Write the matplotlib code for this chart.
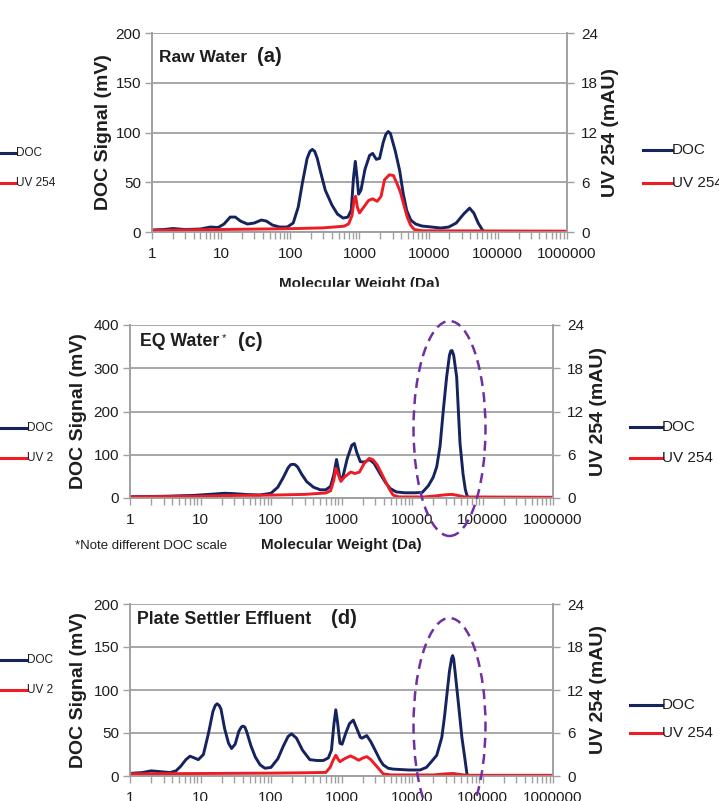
import matplotlib
matplotlib.use('Agg')
import matplotlib.pyplot as plt
from matplotlib.patches import Ellipse, Rectangle
from matplotlib.lines import Line2D
from matplotlib.ticker import FixedLocator, LogLocator, NullFormatter

W, H = 719, 801
plt.rcParams['font.family'] = ['Liberation Sans', 'DejaVu Sans']

# ---------------- data ----------------
mw_ticks = [1, 10, 100, 1000, 10000, 100000, 1000000]
mw_tick_labels = ['1', '10', '100', '1000', '10000', '100000', '1000000']
uv_ticks = [0, 6, 12, 18, 24]

# Panel (a) Raw Water
a_doc_mw = [1, 1.5, 2, 3, 5, 7, 9, 11, 13.5, 16, 19, 24, 30, 38, 45, 55, 70, 90, 110, 130, 150, 175,
            192, 208, 225, 245, 270, 320, 400, 480, 580, 680, 760, 820, 870, 920, 970, 1050, 1200,
            1400, 1550, 1750, 1950, 2200, 2400, 2600, 2800, 3300, 3800, 4300, 4800, 5500, 6500,
            8000, 11000, 15000, 19500, 25000, 32000, 39000, 45000, 52000, 60000, 65000]
a_doc = [2, 2.5, 3.5, 2.5, 3, 5, 4.5, 8, 15, 15, 11, 8, 9, 12, 11, 7, 5, 5, 9, 25, 50, 74,
         81, 83, 81, 74, 62, 42, 27, 18, 14, 15, 22, 55, 71, 55, 38, 42, 63,
         77, 79, 73, 74, 90, 98, 101, 99, 81, 62, 38, 22, 12, 8,
         6, 5, 4, 5, 9, 18, 24, 19, 9, 2, 0]
a_uv_mw = [1, 3, 10, 30, 100, 300, 600, 700, 780, 840, 880, 930, 1000, 1150, 1350, 1550, 1800,
           2050, 2300, 2700, 3100, 3500, 3900, 4400, 4900, 5500, 6200, 8000, 1000000]
a_uv = [0.2, 0.25, 0.3, 0.35, 0.4, 0.5, 0.7, 1.0, 2.0, 4.0, 4.3, 3.0, 2.3, 3.0, 3.8, 4.0, 3.7,
        4.3, 6.3, 6.9, 6.8, 5.8, 4.8, 3.2, 1.8, 0.8, 0.3, 0.15, 0.1]

# Panel (c) EQ Water
c_doc_mw = [1, 3, 8, 15, 22, 30, 45, 70, 100, 125, 150, 175, 190, 205, 220, 240, 270, 320, 400,
            500, 600, 700, 780, 850, 900, 960, 1050, 1200, 1400, 1520, 1650, 1850, 2100, 2500, 2900,
            3500, 4200, 4900, 6000, 8000, 11000, 14000, 17000, 20000, 22400, 25000, 27800, 31000,
            34000, 35500, 37000, 39000, 43000, 48000, 53000, 57000, 60000, 63000]
c_doc = [3, 4, 6, 9, 11, 10, 8, 7, 11, 25, 48, 70, 77, 78, 77, 71, 56, 38, 25,
         19, 19, 27, 55, 89, 68, 43, 50, 90, 122, 126, 105, 84, 83, 89, 80,
         57, 36, 22, 14, 12, 12, 13, 28, 48, 72, 120, 203, 280,
         330, 340, 341, 330, 280, 126, 55, 20, 7, 0]
c_uv_mw = [1, 10, 30, 100, 300, 600, 700, 780, 830, 880, 980, 1100, 1350, 1550, 1800, 2100, 2480,
           2800, 3200, 3700, 4200, 4800, 5400, 6500, 15000, 22000, 30000, 37000, 45000, 55000, 1000000]
c_uv = [0.15, 0.25, 0.35, 0.4, 0.5, 0.7, 1.0, 2.5, 4.1, 3.5, 2.3, 2.9, 3.6, 3.4, 3.6, 4.8, 5.5,
        5.3, 4.6, 3.4, 2.3, 1.2, 0.4, 0.15, 0.15, 0.3, 0.45, 0.5, 0.35, 0.15, 0.1]

# Panel (d) Plate Settler Effluent
d_doc_mw = [1, 1.5, 2, 2.7, 3.7, 4.5, 5.2, 6.2, 7.1, 8.2, 9.3, 11, 13, 15, 16.2, 17.2, 18.4, 19.5,
            22, 25, 27.6, 31, 35, 38, 40, 42.5, 45, 52, 60, 70, 82, 100, 125, 150, 175, 196, 230,
            280, 355, 450, 550, 650, 720, 780, 830, 880, 950, 1020, 1150, 1300, 1470, 1650, 1850,
            1950, 2280, 2600, 3000, 3500, 3900, 4600, 5400, 9000, 13000, 16000, 19000, 22400,
            26500, 29000, 31000, 34000, 36500, 37700, 39000, 41000, 46000, 51000, 56500, 60000, 62000]
d_doc = [3, 4, 6, 5, 4, 6, 11, 19, 23, 21, 19, 25, 50, 75, 82, 84, 82, 78,
         55, 38, 32, 37, 52, 57, 58, 57, 52, 35, 22, 13, 9, 10, 20, 35, 46, 49, 44,
         30, 19, 18, 18, 21, 30, 60, 77, 62, 38, 37, 50, 61, 65, 55, 45,
         44, 47, 40, 30, 19, 13, 9, 8, 7, 7, 10, 17, 24,
         45, 70, 92, 122, 137, 140, 136, 120, 81, 45, 19, 3, 0]
d_uv_mw = [1, 10, 100, 300, 600, 690, 760, 830, 900, 950, 1100, 1340, 1550, 1750, 2000, 2280, 2600,
           3250, 3900, 5000, 20000, 30000, 38000, 50000, 60000, 1000000]
d_uv = [0.3, 0.35, 0.4, 0.45, 0.5, 1.2, 2.2, 2.9, 2.3, 2.0, 2.4, 2.8, 2.5, 2.2, 2.5, 2.7, 2.3,
        1.2, 0.3, 0.15, 0.15, 0.3, 0.35, 0.2, 0.1, 0.1]

# ---------------- style ----------------
NAVY = '#15235E'
RED = '#EE1C25'
GRID = '#A0A0A0'
TXT = '#1E1E1E'
PURPLE = '#7030A0'
TICK_FS = 11

fig = plt.figure(figsize=(W / 100, H / 100), dpi=100)


def fx(x):
    return x / W


def fy(y):
    return 1 - y / H


def panel(box, doc_mw, doc, uv_mw, uv, ymax, ystep, ylab_x, yrlab_x, xlab_y):
    l, t, r, b = box
    ax = fig.add_axes([l / W, 1 - b / H, (r - l) / W, (b - t) / H])
    ax.set_xscale('log')
    ax.set_xlim(1, 1e6)
    ax.set_ylim(0, ymax)
    ax.xaxis.set_major_locator(FixedLocator(mw_ticks))
    ax.set_xticklabels(mw_tick_labels)
    ax.xaxis.set_minor_locator(LogLocator(base=10, subs=range(2, 10), numticks=20))
    ax.xaxis.set_minor_formatter(NullFormatter())
    ax.set_yticks(list(range(0, ymax + 1, ystep)))
    ax.yaxis.grid(True, color=GRID, lw=1.3)
    ax.set_axisbelow(True)
    ax.spines['top'].set_visible(False)
    for s in ['left', 'right', 'bottom']:
        ax.spines[s].set_color(GRID)
        ax.spines[s].set_linewidth(1.2)
    ax.tick_params(axis='x', which='both', direction='out', length=5, width=1, color=GRID,
                   labelcolor=TXT, labelsize=TICK_FS, pad=6)
    ax.tick_params(axis='y', direction='out', length=5, width=1, color=GRID,
                   labelcolor=TXT, labelsize=TICK_FS, pad=3)
    ax.plot(doc_mw, doc, color=NAVY, lw=2.1, solid_joinstyle='round', solid_capstyle='round')
    ax.set_ylabel('DOC Signal (mV)', fontsize=14, fontweight='bold', color=TXT)
    ax.yaxis.set_label_coords(ylab_x, 0.5)
    ax.set_xlabel('Molecular Weight (Da)', fontsize=11, fontweight='bold', color=TXT)
    ax.xaxis.set_label_coords(0.5, xlab_y)

    ax2 = ax.twinx()
    ax2.set_ylim(0, 24)
    ax2.set_yticks(uv_ticks)
    ax2.patch.set_visible(False)
    ax2.spines['top'].set_visible(False)
    for s in ['left', 'right', 'bottom']:
        ax2.spines[s].set_color(GRID)
        ax2.spines[s].set_linewidth(1.2)
    ax2.tick_params(axis='y', direction='out', length=5, width=1, color=GRID,
                    labelcolor=TXT, labelsize=TICK_FS, pad=5)
    ax2.plot(uv_mw, uv, color=RED, lw=2.1, solid_joinstyle='round')
    ax2.set_ylabel('UV 254 (mAU)', fontsize=14, fontweight='bold', color=TXT)
    ax2.yaxis.set_label_coords(yrlab_x, 0.5)
    return ax, ax2


def legend(x0, x1, y_doc, y_uv, doc_txt, uv_txt, fs):
    fig.add_artist(Line2D([fx(x0), fx(x1)], [fy(y_doc), fy(y_doc)], color=NAVY, lw=2.2,
                          transform=fig.transFigure))
    fig.add_artist(Line2D([fx(x0), fx(x1)], [fy(y_uv), fy(y_uv)], color=RED, lw=2.2,
                          transform=fig.transFigure))
    fig.text(fx(x1), fy(y_doc), doc_txt, fontsize=fs, color=TXT, va='center', ha='left')
    fig.text(fx(x1), fy(y_uv), uv_txt, fontsize=fs, color=TXT, va='center', ha='left')


# Panel (a)
panel((152, 33, 567, 232), a_doc_mw, a_doc, a_uv_mw, a_uv, 200, 50, -0.096, 1.085, -0.226)
fig.text(fx(159), fy(57), 'Raw Water', fontsize=12.5, fontweight='bold', color=TXT, va='center')
fig.text(fx(257), fy(57), '(a)', fontsize=14.5, fontweight='bold', color=TXT, va='center')
legend(643, 672, 150, 183, 'DOC', 'UV 254', 11)
legend(0, 16, 153, 183, 'DOC', 'UV 254', 8.5)

# mask (cropped composite)
fig.add_artist(Rectangle((0, fy(312)), 1, (312 - 287) / H, transform=fig.transFigure,
                         color='white', zorder=10))

# Panel (c)
panel((130, 325, 553, 498), c_doc_mw, c_doc, c_uv_mw, c_uv, 400, 100, -0.102, 1.087, -0.231)
fig.text(fx(140), fy(342), 'EQ Water', fontsize=12.8, fontweight='bold', color=TXT, va='center')
fig.text(fx(222), fy(338), '*', fontsize=8, color=TXT, va='center')
fig.text(fx(238), fy(342), '(c)', fontsize=14.5, fontweight='bold', color=TXT, va='center')
fig.text(fx(75), fy(546), '*Note different DOC scale', fontsize=9.5, color=TXT, va='center')
legend(630, 662, 427, 458, 'DOC', 'UV 254', 11)
legend(0, 27, 428, 458, 'DOC', 'UV 2', 8.5)
fig.add_artist(Ellipse((fx(449.5), fy(428.5)), 72 / W, 215 / H, transform=fig.transFigure,
                       fill=False, ec=PURPLE, lw=1.8, ls=(0, (4, 2.5)), zorder=5))

# Panel (d)
panel((130, 604, 553, 776), d_doc_mw, d_doc, d_uv_mw, d_uv, 200, 50, -0.102, 1.087, -0.23)
fig.text(fx(137), fy(620), 'Plate Settler Effluent', fontsize=12.8, fontweight='bold', color=TXT,
         va='center')
fig.text(fx(331), fy(619), '(d)', fontsize=14.5, fontweight='bold', color=TXT, va='center')
legend(630, 662, 705, 733, 'DOC', 'UV 254', 11)
legend(0, 27, 660, 690, 'DOC', 'UV 2', 8.5)
fig.add_artist(Ellipse((fx(449.5), fy(725.5)), 72 / W, 215 / H, transform=fig.transFigure,
                       fill=False, ec=PURPLE, lw=1.8, ls=(0, (4, 2.5)), zorder=5))

fig.savefig('out.png', dpi=100)
